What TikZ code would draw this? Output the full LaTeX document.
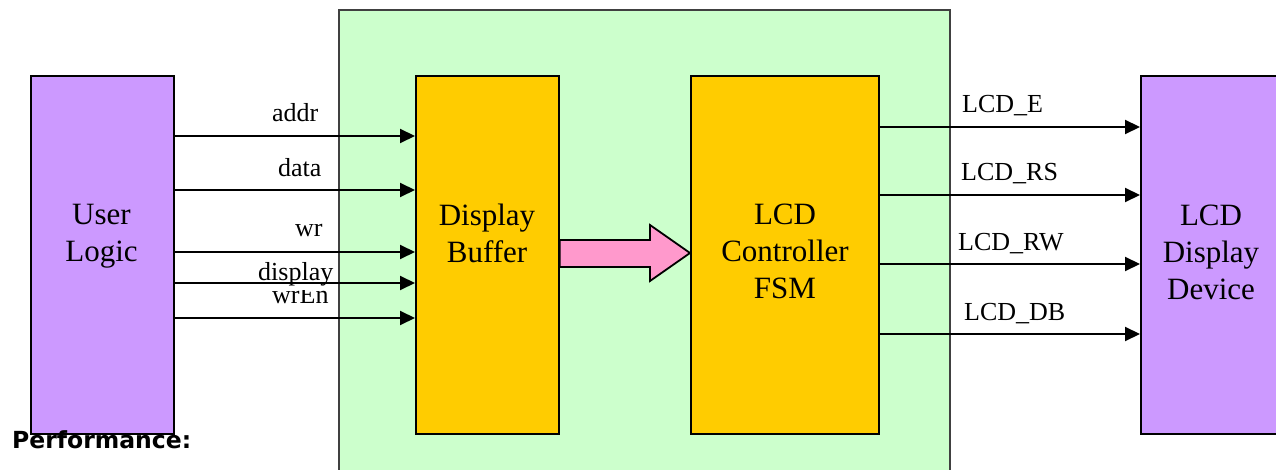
\documentclass[tikz,border=0pt]{standalone}
\usepackage{fontspec}
\setmainfont{Liberation Serif}
\newfontfamily\perffont{DejaVu Sans}
\usetikzlibrary{arrows.meta}
\definecolor{ulpurple}{HTML}{CC99FF}
\definecolor{bufyellow}{HTML}{FFCC00}
\definecolor{sysgreen}{HTML}{CCFFCC}
\definecolor{bigpink}{HTML}{FF99CC}
\begin{document}
\begin{tikzpicture}[x=1pt,y=-1pt,
  box/.style={draw=black, line width=1.8pt, rectangle, inner sep=0pt, anchor=north west},
  sig/.style={line width=2pt, -{Triangle[length=15pt,width=14pt]}},
  siglabel/.style={font=\fontsize{26}{30}\selectfont, anchor=base west, inner sep=0pt},
  boxlabel/.style={font=\fontsize{31}{37}\selectfont, align=center, inner sep=0pt}]
\path[use as bounding box, clip] (0,0) rectangle (1276,470);
\fill[white] (0,0) rectangle (1276,470);
% system box
\node[box, draw=black!75, fill=sysgreen, minimum width=611pt, minimum height=480pt] (sys) at (338,9) {};
% blocks
\node[box, fill=ulpurple, minimum width=143pt, minimum height=358pt] (ul) at (30,75) {};
\node[box, fill=bufyellow, minimum width=143pt, minimum height=358pt] (db) at (415,75) {};
\node[box, fill=bufyellow, minimum width=188pt, minimum height=358pt] (fsm) at (690,75) {};
\node[box, fill=ulpurple, minimum width=143pt, minimum height=358pt] (dev) at (1140,75) {};
% block labels
\node[boxlabel] (ultext) at (101.5,236.6) {User\\Logic};
\node[boxlabel] (dbtext) at (487,232.9) {Display\\Buffer};
\node[boxlabel] (fsmtext) at (785,251.8) {LCD\\Controller\\FSM};
\node[boxlabel] (devtext) at (1211,252) {LCD\\Display\\Device};
% big arrow
\draw[line width=1.8pt, fill=bigpink, line join=miter]
  (db.east |- 0,240) -- (650,240) -- (650,225) -- (fsm.west |- 0,253) -- (650,281) -- (650,267) -- (db.east |- 0,267) -- cycle;
% left labels
\node[siglabel] (laddr) at (272,122) {addr};
\node[siglabel] (ldata) at (278,177) {data};
\node[siglabel] (lwr) at (295,237) {wr};
\node[siglabel] (lwren) at (272,303) {wrEn};
\node[siglabel, fill=white, inner ysep=4.5pt] (ldisp) at (258,280) {display};
% left arrows
\draw[sig] (ul.east |- 0,136) -- (db.west |- 0,136);
\draw[sig] (ul.east |- 0,190) -- (db.west |- 0,190);
\draw[sig] (ul.east |- 0,252) -- (db.west |- 0,252);
\draw[sig] (ul.east |- 0,283) -- (db.west |- 0,283);
\draw[sig] (ul.east |- 0,318) -- (db.west |- 0,318);
% right labels
\node[siglabel] (le) at (962,113) {LCD\_E};
\node[siglabel] (lrs) at (961,181) {LCD\_RS};
\node[siglabel] (lrw) at (958,251) {LCD\_RW};
\node[siglabel] (ldb) at (964,320) {LCD\_DB};
% right arrows
\draw[sig] (fsm.east |- 0,127) -- (dev.west |- 0,127);
\draw[sig] (fsm.east |- 0,195) -- (dev.west |- 0,195);
\draw[sig] (fsm.east |- 0,264) -- (dev.west |- 0,264);
\draw[sig] (fsm.east |- 0,334) -- (dev.west |- 0,334);
% performance text
\node[anchor=base west, inner sep=0pt, font=\perffont\bfseries\fontsize{23.5}{27}\selectfont] (perf) at (12,448) {Performance:};
\end{tikzpicture}
\end{document}
